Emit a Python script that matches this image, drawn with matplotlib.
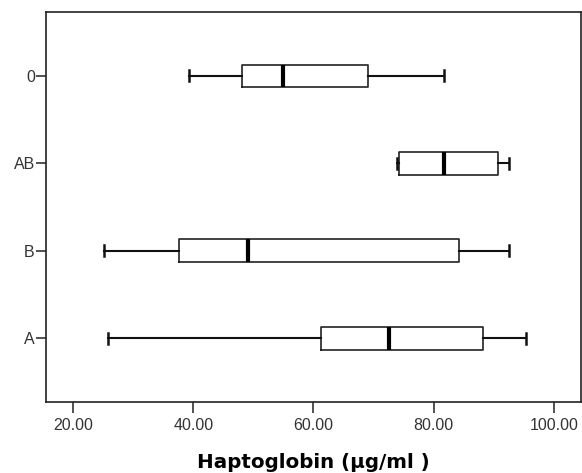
import matplotlib
matplotlib.use("Agg")
import matplotlib.pyplot as plt

categories = ["A", "B", "AB", "0"]
whislo = [25.9, 25.2, 73.9, 39.3]
q1 = [61.2, 37.7, 74.3, 48.1]
med = [72.6, 49.1, 81.8, 54.9]
q3 = [88.3, 84.3, 90.7, 69.1]
whishi = [95.4, 92.6, 92.6, 81.7]
xticks = [20, 40, 60, 80, 100]

stats = []
for c, lo, a, m, b, hi in zip(categories, whislo, q1, med, q3, whishi):
    stats.append(dict(label=c, whislo=lo, q1=a, med=m, q3=b, whishi=hi, fliers=[]))

fig = plt.figure(figsize=(5.82, 4.73), dpi=100)
ax = fig.add_axes([0.079, 0.1507, 0.919, 0.8229])

ax.bxp(stats, positions=[1, 2, 3, 4], vert=False, widths=0.26, capwidths=0.125,
       showfliers=False,
       boxprops=dict(color="#222222", linewidth=1.2),
       whiskerprops=dict(color="#111111", linewidth=1.5),
       capprops=dict(color="#111111", linewidth=1.8),
       medianprops=dict(color="black", linewidth=3))

ax.set_xlim(15.5, 104.5)
ax.set_ylim(0.275, 4.725)
ax.set_xticks(xticks)
ax.set_xticklabels([f"{v:.2f}" for v in xticks], family="Liberation Sans", fontsize=11.5, color="#333333")
ax.set_yticks([1, 2, 3, 4])
ax.set_yticklabels(categories, family="Liberation Sans", fontsize=11.5, color="#333333")
ax.tick_params(axis="x", length=8, width=1.1, color="#222222", pad=4)
ax.tick_params(axis="y", length=7, width=1.1, color="#222222", pad=1)
for s in ax.spines.values():
    s.set_linewidth(1.2)
    s.set_color("#222222")
ax.set_xlabel("Haptoglobin (µg/ml )", family="DejaVu Sans", fontweight="bold", fontsize=14.3, labelpad=14)

fig.savefig("out.png", dpi=100)
